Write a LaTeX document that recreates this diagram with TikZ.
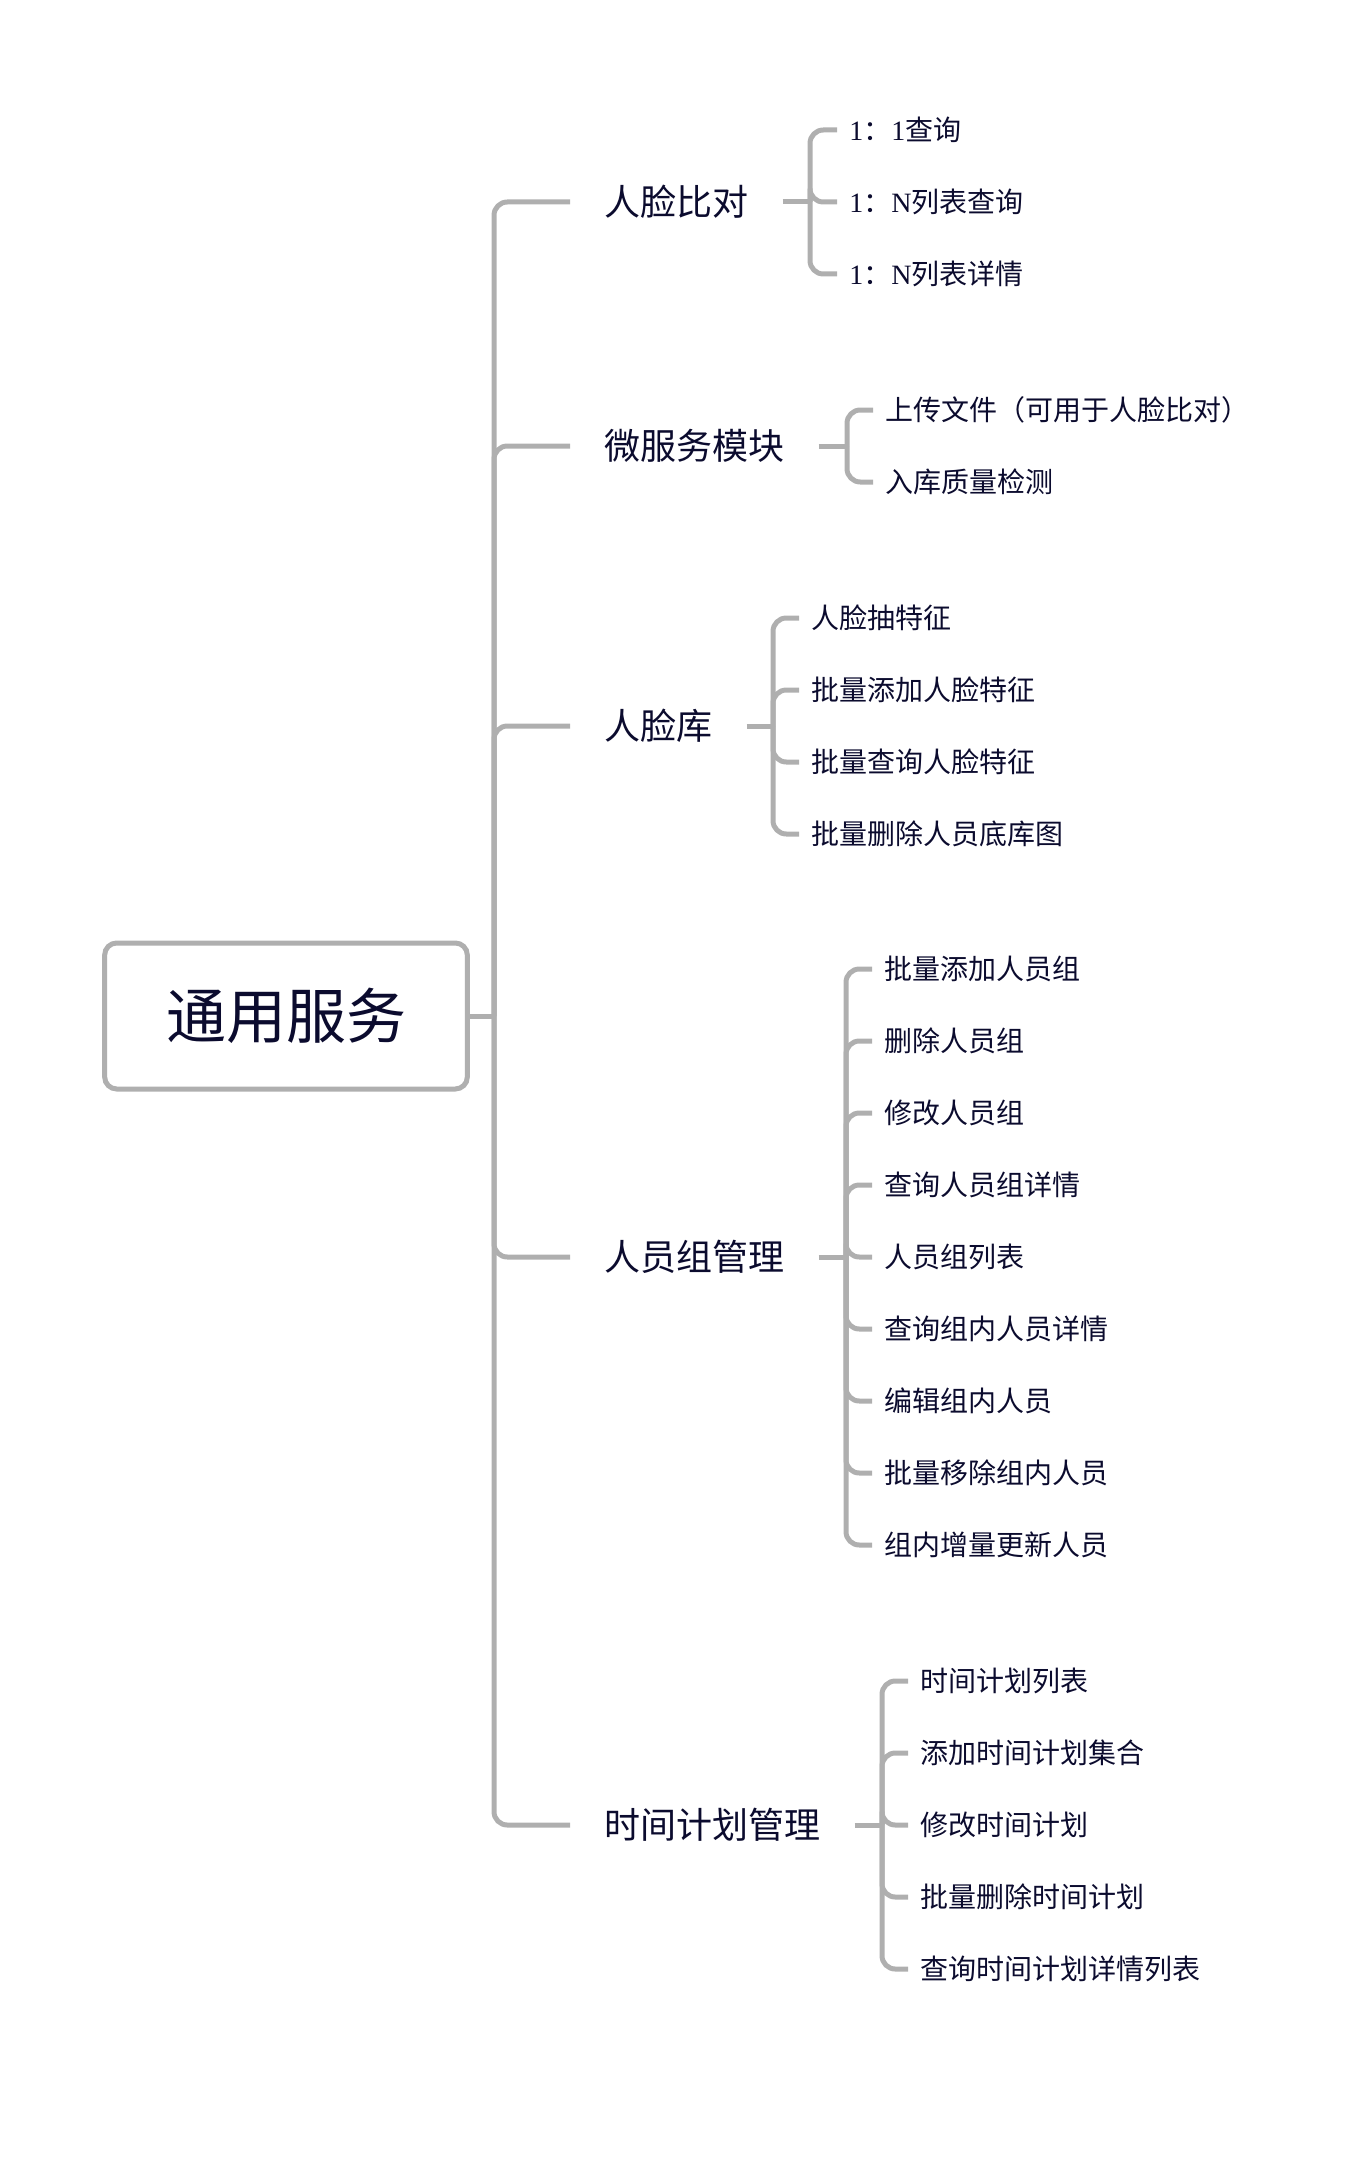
\documentclass[tikz,border=0pt]{standalone}
\usepackage{fontspec}
\setmainfont{Noto Sans CJK SC}
\newfontfamily\latinserif{Liberation Serif}
\definecolor{linegray}{HTML}{AFAFAF}
\definecolor{txt}{HTML}{0B0B2E}
\begin{document}
\begin{tikzpicture}[x=0.75pt,y=-0.75pt,
  conn/.style={draw=linegray,line width=3.75pt,rounded corners=10pt},
  rootbox/.style={draw=linegray,line width=3.75pt,rounded corners=9pt,fill=white,
    minimum width=272pt,minimum height=109.5pt,inner sep=0pt,text=txt,
    font=\fontsize{45}{45}\selectfont},
  lone/.style={anchor=west,inner xsep=25.5pt,inner ysep=0pt,text=txt,
    font=\fontsize{27}{27}\selectfont},
  ltwo/.style={anchor=west,inner xsep=9pt,inner ysep=0pt,text=txt,
    font=\fontsize{21}{21}\selectfont}]
\useasboundingbox (0,0) rectangle (1360,2172);

% root
\node[rootbox] (root) at (286,1016) {通用服务};
\coordinate (tj) at (494,1016);
\draw[conn] (root.east) -- (tj);

% level 1
\node[lone] (a) at (570,202) {人脸比对};
\node[lone] (b) at (570,446) {微服务模块};
\node[lone] (c) at (570,726) {人脸库};
\node[lone] (d) at (570,1257) {人员组管理};
\node[lone] (e) at (570,1825) {时间计划管理};
\foreach \n in {a,b,c,d,e} \draw[conn] (tj) |- (\n.west);

% group a
\coordinate (ab) at (810,202);
\draw[conn] (a.east) -- (ab);
\foreach \t [count=\i] in {{{\latinserif 1}：{\latinserif 1}查询},{{\latinserif 1}：{\latinserif N}列表查询},{{\latinserif 1}：{\latinserif N}列表详情}}{
  \node[ltwo] (a\i) at (837,{130+72*(\i-1)}) {\t};
  \draw[conn] (ab) |- (a\i.west);
}

% group b
\coordinate (bb) at (847,446);
\draw[conn] (b.east) -- (bb);
\foreach \t [count=\i] in {上传文件（可用于人脸比对）,入库质量检测}{
  \node[ltwo] (b\i) at (873,{410+72*(\i-1)}) {\t};
  \draw[conn] (bb) |- (b\i.west);
}

% group c
\coordinate (cb) at (773,726);
\draw[conn] (c.east) -- (cb);
\foreach \t [count=\i] in {人脸抽特征,批量添加人脸特征,批量查询人脸特征,批量删除人员底库图}{
  \node[ltwo] (c\i) at (799,{618+72*(\i-1)}) {\t};
  \draw[conn] (cb) |- (c\i.west);
}

% group d
\coordinate (db) at (846,1257);
\draw[conn] (d.east) -- (db);
\foreach \t [count=\i] in {批量添加人员组,删除人员组,修改人员组,查询人员组详情,人员组列表,查询组内人员详情,编辑组内人员,批量移除组内人员,组内增量更新人员}{
  \node[ltwo] (d\i) at (872,{969+72*(\i-1)}) {\t};
  \draw[conn] (db) |- (d\i.west);
}

% group e
\coordinate (eb) at (882,1825);
\draw[conn] (e.east) -- (eb);
\foreach \t [count=\i] in {时间计划列表,添加时间计划集合,修改时间计划,批量删除时间计划,查询时间计划详情列表}{
  \node[ltwo] (e\i) at (908,{1681+72*(\i-1)}) {\t};
  \draw[conn] (eb) |- (e\i.west);
}
\end{tikzpicture}
\end{document}
